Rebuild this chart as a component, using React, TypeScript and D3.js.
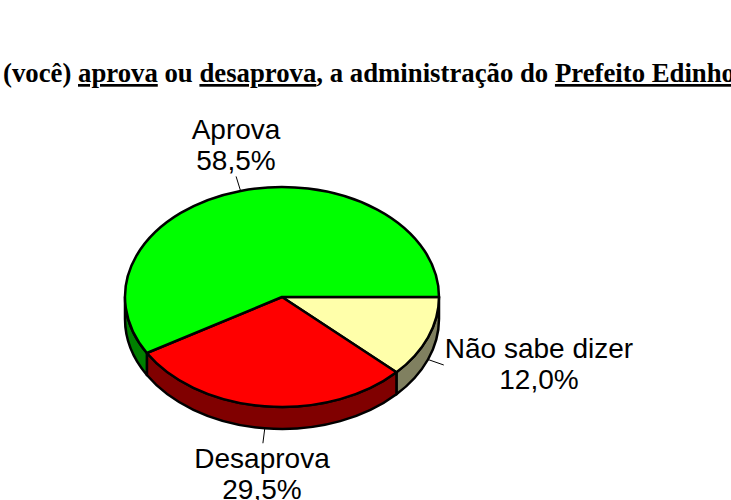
import * as d3 from 'd3';
import React from 'react';

const categories = ['Não sabe dizer', 'Desaprova', 'Aprova'];
const values = [12.0, 29.5, 58.5];
const valueLabels = ['12,0%', '29,5%', '58,5%'];
const topColors = ['#ffffaa', '#ff0000', '#00ff00'];
const sideColors = ['#808060', '#800000', '#008000'];

const width = 731;
const height = 500;
const cx = 282;
const cy = 297;
const rx = 157;
const ry = 110;
const depth = 22;

const pie = d3.pie<number>()
  .sort(null)
  .startAngle(Math.PI / 2)
  .endAngle(Math.PI / 2 + Math.PI * 2);
const slices = pie(values);

const px = (a: number) => cx + rx * Math.sin(a);
const py = (a: number) => cy - ry * Math.cos(a);

// top face of a slice, elliptical arc
function topPath(s: d3.PieArcDatum<number>) {
  const large = s.endAngle - s.startAngle > Math.PI ? 1 : 0;
  return `M${cx},${cy}L${px(s.startAngle)},${py(s.startAngle)}A${rx},${ry} 0 ${large} 1 ${px(s.endAngle)},${py(s.endAngle)}Z`;
}

// wall of the slice, only the part that faces the viewer (90deg to 270deg)
function sidePath(s: d3.PieArcDatum<number>) {
  const a0 = Math.max(s.startAngle, Math.PI / 2);
  const a1 = Math.min(s.endAngle, Math.PI * 1.5);
  if (a1 <= a0) return null;
  return `M${px(a0)},${py(a0)}A${rx},${ry} 0 0 1 ${px(a1)},${py(a1)}L${px(a1)},${py(a1) + depth}A${rx},${ry} 0 0 0 ${px(a0)},${py(a0) + depth}Z`;
}

const labelPos = [
  { x: 539, y: 358 },
  { x: 262, y: 468 },
  { x: 236, y: 139 },
];

function leader(s: d3.PieArcDatum<number>) {
  const mid = (s.startAngle + s.endAngle) / 2;
  const front = Math.cos(mid) < 0;
  const x0 = px(mid);
  const y0 = py(mid) + (front ? depth : 0);
  return {
    x1: x0,
    y1: y0,
    x2: x0 + 17 * Math.sin(mid),
    y2: y0 - 15 * Math.cos(mid),
  };
}

export default function App() {
  return (
    <svg
      width={width}
      height={height}
      viewBox={`0 0 ${width} ${height}`}
      style={{ position: 'absolute', left: 0, top: 0, background: '#fff' }}
    >
      <text
        x={3}
        y={82}
        fontFamily="'Liberation Serif', serif"
        fontWeight="bold"
        fontSize={27}
        textLength={732}
        lengthAdjust="spacingAndGlyphs"
        fill="#000"
      >
        (você) <tspan textDecoration="underline">aprova</tspan> ou{' '}
        <tspan textDecoration="underline">desaprova</tspan>, a administração do{' '}
        <tspan textDecoration="underline">Prefeito Edinho</tspan>
      </text>

      <g stroke="#000" strokeWidth={2.5} strokeLinejoin="round">
        {slices.map((s, i) => {
          const d = sidePath(s);
          return d ? <path key={i} d={d} fill={sideColors[i]} /> : null;
        })}
        {slices.map((s, i) => (
          <path key={i} d={topPath(s)} fill={topColors[i]} />
        ))}
      </g>

      {slices.map((s, i) => (
        <line key={i} {...leader(s)} stroke="#000" strokeWidth={1} />
      ))}

      <g fontFamily="'Liberation Sans', Arial, sans-serif" fontSize={28} textAnchor="middle" fill="#000">
        {categories.map((c, i) => (
          <text key={c} x={labelPos[i].x} y={labelPos[i].y}>
            <tspan x={labelPos[i].x}>{c}</tspan>
            <tspan x={labelPos[i].x} dy={31}>{valueLabels[i]}</tspan>
          </text>
        ))}
      </g>
    </svg>
  );
}
